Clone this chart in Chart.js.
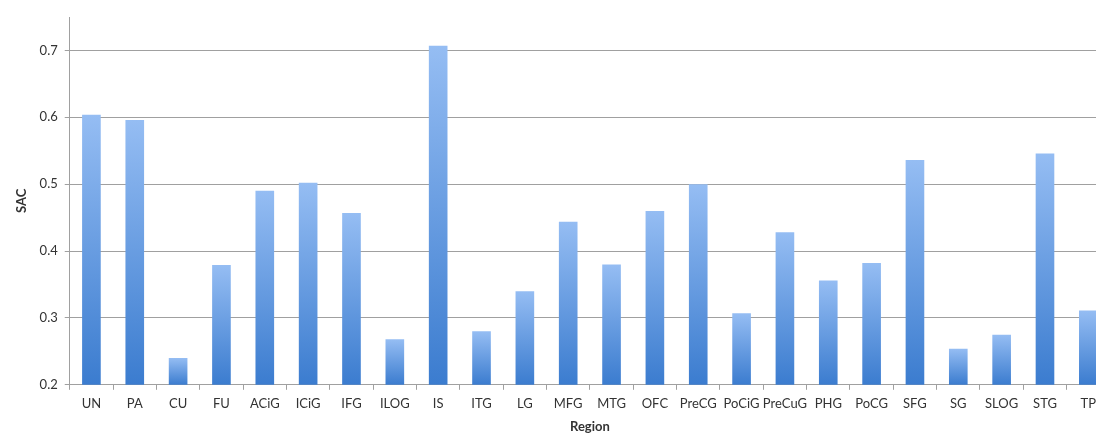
<!DOCTYPE html>
<html>
<head>
<meta charset="utf-8">
<script src="https://cdn.jsdelivr.net/npm/chart.js@4/dist/chart.umd.min.js"></script>
<style>
    html, body { margin: 0; padding: 0; background: #fff; overflow: hidden; }
    #wrap { width: 1110px; height: 434px; position: relative; }
</style>
</head>
<body>
<div id="wrap"><canvas id="chart"></canvas></div>
<script>
// regions and SAC values
const regions = ['UN', 'PA', 'CU', 'FU', 'ACiG', 'ICiG', 'IFG', 'ILOG', 'IS', 'ITG', 'LG', 'MFG', 'MTG',
    'OFC', 'PreCG', 'PoCiG', 'PreCuG', 'PHG', 'PoCG', 'SFG', 'SG', 'SLOG', 'STG', 'TP'];
const sacValues = [0.604, 0.596, 0.24, 0.379, 0.49, 0.502, 0.457, 0.268, 0.707, 0.28, 0.34, 0.444, 0.38,
    0.46, 0.50, 0.307, 0.428, 0.356, 0.382, 0.536, 0.254, 0.275, 0.546, 0.311];
const yTicks = [0.2, 0.3, 0.4, 0.5, 0.6, 0.7];

const textColor = '#333';
const lineColor = '#a0a0a0';
const fontFamily = 'Lato';

// each bar gets its own light-to-dark gradient, top to bottom
function barGradient(ctx) {
    const chart = ctx.chart;
    if (!chart.chartArea || !chart.scales.y) return '#6aa0e6';
    const y = chart.scales.y;
    const top = y.getPixelForValue(ctx.raw);
    const bottom = y.getPixelForValue(y.min);
    const g = chart.ctx.createLinearGradient(0, top, 0, bottom);
    g.addColorStop(0, '#95bdf3');
    g.addColorStop(1, '#3b7ccf');
    return g;
}

new Chart(document.getElementById('chart'), {
    type: 'bar',
    data: {
        labels: regions,
        datasets: [{
            label: 'SAC',
            data: sacValues,
            backgroundColor: barGradient,
            barPercentage: 0.86,
            categoryPercentage: 0.5,
        }],
    },
    options: {
        responsive: true,
        maintainAspectRatio: false,
        animation: false,
        layout: { padding: { top: 17, left: 14, right: 0, bottom: 0 } },
        plugins: {
            legend: { display: false },
            tooltip: { enabled: false },
        },
        scales: {
            x: {
                grid: { drawOnChartArea: false, drawTicks: true, tickLength: 5, color: lineColor, offset: true },
                border: { color: lineColor },
                ticks: { color: textColor, font: { family: fontFamily, size: 13 }, autoSkip: false, maxRotation: 0, padding: 6 },
                title: { display: true, text: 'Region', color: textColor, font: { family: fontFamily, size: 13, weight: 'bold' }, padding: { top: 2, bottom: -1 } },
            },
            y: {
                min: 0.2,
                max: 0.75,
                afterBuildTicks(axis) {
                    axis.ticks = yTicks.map(v => ({ value: v }));
                },
                grid: { color: lineColor, tickLength: 5 },
                border: { color: lineColor },
                ticks: { color: textColor, font: { family: fontFamily, size: 13 }, padding: 7, callback: v => v.toFixed(1) },
                title: { display: true, text: 'SAC', color: textColor, font: { family: fontFamily, size: 13, weight: 'bold' }, padding: { top: 0, bottom: 3 } },
            },
        },
    },
});
</script>
</body>
</html>
